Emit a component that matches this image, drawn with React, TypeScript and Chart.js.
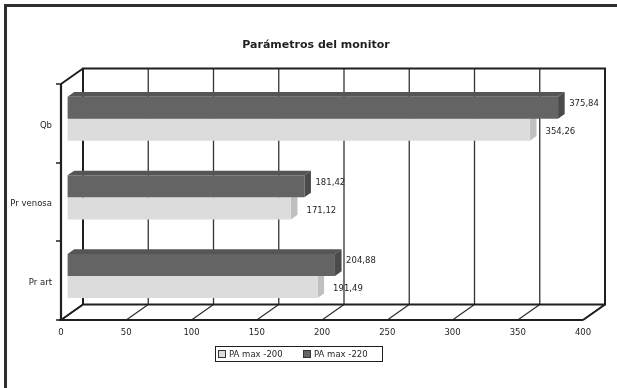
import { useEffect, useRef } from 'react';
import { Chart, registerables } from 'chart.js';

Chart.register(...registerables);

// Data
const categories = ['Qb', 'Pr venosa', 'Pr art'];
const seriesNames = ['PA max -200', 'PA max -220'];
const paMax200 = [354.26, 171.12, 191.49];
const paMax220 = [375.84, 181.42, 204.88];
const valueTicks = [0, 50, 100, 150, 200, 250, 300, 350, 400];
const chartTitle = 'Parámetros del monitor';

// Styling
const W = 617;
const H = 388;
const FONT = '"DejaVu Sans", "Liberation Sans", sans-serif';
const DEPTH = { x: 22, y: -15.5 }; // front plane -> back wall
const BAR_SHIFT = 0.3; // bars sit this far into the depth
const BAR_DEPTH = 0.3; // thickness of each bar in depth
const LIGHT = { front: '#dcdcdc', top: '#cdcdcd', side: '#c0c0c0' };
const DARK = { front: '#646464', top: '#555555', side: '#4a4a4a' };
const INK = '#1f1f1f';

const fmt = (v: number) => v.toFixed(2).replace('.', ',');

const box3d = {
  id: 'box3d',
  beforeDatasetsDraw(chart: any) {
    const { ctx, chartArea: a } = chart;
    const xs = chart.scales.x;
    ctx.save();
    // outer frame
    ctx.strokeStyle = '#2e2e2e';
    ctx.lineWidth = 3;
    ctx.strokeRect(5.5, 5.5, W + 20, H + 20);

    const bl = a.left + DEPTH.x;
    const br = a.right + DEPTH.x;
    const bt = a.top + DEPTH.y;
    const bb = a.bottom + DEPTH.y;

    // back wall grid and floor diagonals
    ctx.strokeStyle = '#333333';
    ctx.lineWidth = 1.3;
    valueTicks.forEach((v) => {
      const fx = xs.getPixelForValue(v);
      const px = fx + DEPTH.x;
      ctx.beginPath();
      ctx.moveTo(px, bt);
      ctx.lineTo(px, bb);
      ctx.moveTo(fx, a.bottom);
      ctx.lineTo(px, bb);
      ctx.stroke();
    });

    // wall edges
    ctx.strokeStyle = INK;
    ctx.lineWidth = 2;
    ctx.beginPath();
    ctx.moveTo(bl, bb);
    ctx.lineTo(bl, bt);
    ctx.lineTo(br, bt);
    ctx.lineTo(br, bb);
    ctx.lineTo(bl, bb);
    ctx.lineTo(a.left, a.bottom);
    ctx.moveTo(a.left, a.top);
    ctx.lineTo(bl, bt);
    ctx.moveTo(a.right, a.bottom);
    ctx.lineTo(br, bb);
    ctx.stroke();

    // front axes
    ctx.lineWidth = 2.2;
    ctx.beginPath();
    ctx.moveTo(a.left, a.top);
    ctx.lineTo(a.left, a.bottom);
    ctx.moveTo(a.left - 2, a.bottom);
    ctx.lineTo(a.right, a.bottom);
    ctx.stroke();

    // category tick marks
    ctx.lineWidth = 1.5;
    const n = categories.length;
    for (let k = 0; k <= n; k++) {
      const ty = Math.round(a.top + (k * (a.bottom - a.top)) / n);
      ctx.beginPath();
      ctx.moveTo(a.left - 5, ty);
      ctx.lineTo(a.left, ty);
      ctx.stroke();
    }
    ctx.restore();

    // bars: shift into depth, then draw the top and side faces
    ctx.save();
    ctx.translate(DEPTH.x * BAR_SHIFT, DEPTH.y * BAR_SHIFT);
    const dx = DEPTH.x * BAR_DEPTH;
    const dy = DEPTH.y * BAR_DEPTH;
    chart.data.datasets.forEach((ds: any, di: number) => {
      const meta = chart.getDatasetMeta(di);
      meta.data.forEach((el: any) => {
        const { x, y, base, height } = el.getProps(['x', 'y', 'base', 'height'], true);
        const top = y - height / 2;
        const bot = y + height / 2;
        ctx.fillStyle = ds.topColor;
        ctx.beginPath();
        ctx.moveTo(base, top);
        ctx.lineTo(x, top);
        ctx.lineTo(x + dx, top + dy);
        ctx.lineTo(base + dx, top + dy);
        ctx.closePath();
        ctx.fill();
        ctx.fillStyle = ds.sideColor;
        ctx.beginPath();
        ctx.moveTo(x, top);
        ctx.lineTo(x + dx, top + dy);
        ctx.lineTo(x + dx, bot + dy);
        ctx.lineTo(x, bot);
        ctx.closePath();
        ctx.fill();
      });
    });
  },
  afterDatasetsDraw(chart: any) {
    const { ctx, chartArea: a } = chart;
    ctx.restore();
    const xs = chart.scales.x;
    const ys = chart.scales.y;
    const sx = DEPTH.x * BAR_SHIFT;
    const sy = DEPTH.y * BAR_SHIFT;
    const dx = DEPTH.x * BAR_DEPTH;

    ctx.save();
    ctx.fillStyle = INK;

    // value labels
    ctx.font = `8.5px ${FONT}`;
    ctx.textAlign = 'left';
    ctx.textBaseline = 'middle';
    chart.data.datasets.forEach((ds: any, di: number) => {
      const meta = chart.getDatasetMeta(di);
      meta.data.forEach((el: any, i: number) => {
        const { x, y } = el.getProps(['x', 'y'], true);
        ctx.fillText(fmt(ds.data[i]), x + sx + dx + ds.labelGap, y + sy + ds.labelDy);
      });
    });

    // value axis labels
    ctx.textAlign = 'center';
    valueTicks.forEach((v) => {
      ctx.fillText(String(v), xs.getPixelForValue(v), a.bottom + 13);
    });

    // category labels
    ctx.textAlign = 'right';
    categories.forEach((c, i) => {
      ctx.fillText(c, a.left - 9, ys.getPixelForValue(i) + 2);
    });

    // title
    ctx.font = `bold 11px ${FONT}`;
    ctx.textAlign = 'center';
    ctx.fillText(chartTitle, 316, 45);

    // legend
    const lx = 215.5;
    const ly = 346.5;
    ctx.strokeStyle = INK;
    ctx.lineWidth = 1;
    ctx.strokeRect(lx, ly, 167, 15);
    ctx.font = `8.5px ${FONT}`;
    ctx.textAlign = 'left';
    const legendItems = [
      { name: seriesNames[0], color: LIGHT.front, x: 218 },
      { name: seriesNames[1], color: DARK.front, x: 303 },
    ];
    legendItems.forEach((it) => {
      ctx.fillStyle = it.color;
      ctx.fillRect(it.x, 350.5, 7, 7);
      ctx.strokeStyle = '#333';
      ctx.strokeRect(it.x + 0.5, 350.5, 7, 7);
      ctx.fillStyle = INK;
      ctx.fillText(it.name, it.x + 11, 354.5);
    });
    ctx.restore();
  },
};

export default function App() {
  const canvasRef = useRef<HTMLCanvasElement | null>(null);

  useEffect(() => {
    const canvas = canvasRef.current;
    if (!canvas) return;
    const chart = new Chart(canvas, {
      type: 'bar',
      data: {
        labels: categories,
        datasets: [
          {
            label: seriesNames[1],
            data: paMax220,
            backgroundColor: DARK.front,
            topColor: DARK.top,
            sideColor: DARK.side,
            labelGap: 4.5,
            labelDy: -4,
            borderWidth: 0,
            categoryPercentage: 0.56,
            barPercentage: 1,
            clip: false,
          } as any,
          {
            label: seriesNames[0],
            data: paMax200,
            backgroundColor: LIGHT.front,
            topColor: LIGHT.top,
            sideColor: LIGHT.side,
            labelGap: 9,
            labelDy: 2,
            borderWidth: 0,
            categoryPercentage: 0.56,
            barPercentage: 1,
            clip: false,
          } as any,
        ],
      },
      options: {
        indexAxis: 'y',
        responsive: false,
        animation: false,
        events: [],
        layout: { padding: { left: 61, right: W - 583, top: 84, bottom: H - 320 } },
        scales: {
          x: { display: false, min: 0, max: 400 },
          y: { display: false },
        },
        plugins: {
          legend: { display: false },
          title: { display: false },
          tooltip: { enabled: false },
        },
      },
      plugins: [box3d],
    });
    return () => chart.destroy();
  }, []);

  return (
    <div style={{ position: 'fixed', left: 0, top: 0, width: W, height: H, background: '#fff' }}>
      <canvas ref={canvasRef} width={W} height={H} style={{ display: 'block', width: W, height: H }} />
    </div>
  );
}
